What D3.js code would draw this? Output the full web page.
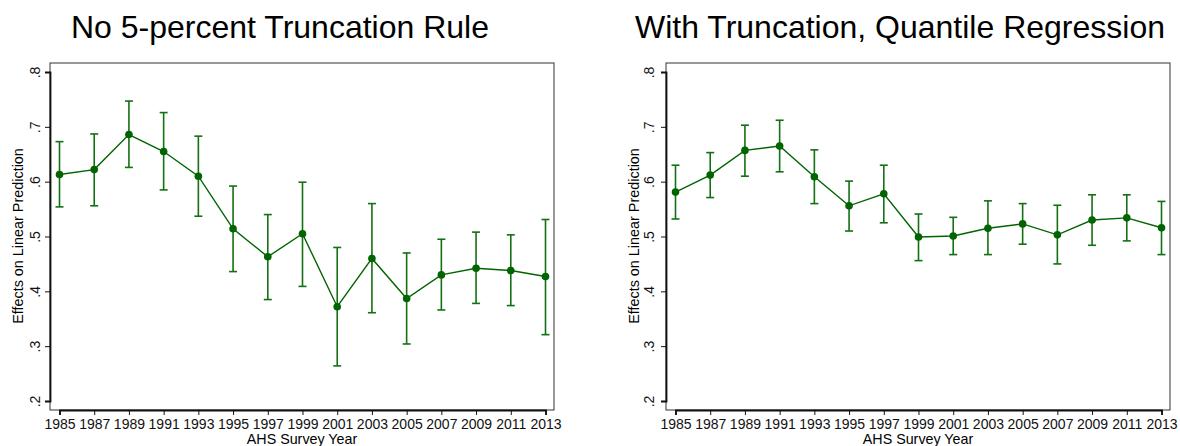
<!DOCTYPE html>
<html>
<head>
<meta charset="utf-8">
<title>AHS effects, two panels</title>
<script src="https://cdn.jsdelivr.net/npm/d3@7/dist/d3.min.js"></script>
<style>
body {
  margin: 0;
  background: #fff;
  font-family: "Liberation Sans", Arial, Helvetica, sans-serif;
}
</style>
</head>
<body>
<svg id="chart" width="1180" height="446"></svg>
<script>

// data
var years = [1985, 1987, 1989, 1991, 1993, 1995, 1997, 1999, 2001, 2003, 2005, 2007, 2009, 2011, 2013];
var yTicks = [0.2, 0.3, 0.4, 0.5, 0.6, 0.7, 0.8];

// left panel: no truncation rule
var noTruncEst = [0.613, 0.622, 0.686, 0.655, 0.610, 0.514, 0.463, 0.505, 0.372, 0.460, 0.387, 0.430, 0.442, 0.438, 0.427];
var noTruncLo  = [0.554, 0.556, 0.626, 0.585, 0.537, 0.436, 0.385, 0.409, 0.264, 0.361, 0.304, 0.366, 0.378, 0.374, 0.321];
var noTruncHi  = [0.673, 0.687, 0.747, 0.726, 0.683, 0.592, 0.540, 0.599, 0.480, 0.560, 0.470, 0.495, 0.508, 0.503, 0.531];

// right panel: truncation + quantile regression
var qregEst = [0.581, 0.612, 0.657, 0.665, 0.609, 0.556, 0.578, 0.499, 0.501, 0.515, 0.523, 0.503, 0.530, 0.534, 0.516];
var qregLo  = [0.532, 0.571, 0.610, 0.618, 0.560, 0.510, 0.525, 0.456, 0.467, 0.467, 0.486, 0.450, 0.484, 0.492, 0.467];
var qregHi  = [0.630, 0.653, 0.703, 0.712, 0.658, 0.601, 0.630, 0.541, 0.535, 0.565, 0.560, 0.557, 0.576, 0.576, 0.564];

var titles = ['No 5-percent Truncation Rule', 'With Truncation, Quantile Regression'];
var xTitle = 'AHS Survey Year';
var yTitle = 'Effects on Linear Prediction';

var green = '#006400';
var svg = d3.select('#chart');

function drawPanel(opt) {
  var est = opt.est, lo = opt.lo, hi = opt.hi;
  var x = d3.scaleLinear().domain([1985, 2013]).range([opt.x0 + 9.5, opt.x1 - 8.5]);
  var y = d3.scaleLinear().domain([0.2, 0.8]).range([401, 72]);
  var g = svg.append('g');

  // title
  g.append('text')
    .attr('x', opt.titleX).attr('y', 38)
    .attr('text-anchor', 'middle')
    .style('font-size', '32px')
    .text(opt.title);

  // plot frame
  g.append('rect')
    .attr('x', opt.x0).attr('y', 63)
    .attr('width', opt.x1 - opt.x0).attr('height', 410 - 63)
    .style('fill', 'none').style('stroke', '#333').style('stroke-width', 1);

  // y axis
  var yAxis = g.append('g')
    .attr('transform', 'translate(' + opt.x0 + ',0)')
    .call(d3.axisLeft(y).tickValues(yTicks).tickSize(5).tickPadding(6)
      .tickFormat(function(d) { return d3.format('.1f')(d).replace(/^0/, ''); }));
  yAxis.select('.domain').style('stroke', '#111').style('stroke-width', 1.8);
  yAxis.selectAll('.tick line').style('stroke', '#111');
  yAxis.selectAll('.tick text')
    .attr('x', 0).attr('dy', 0).attr('y', 0)
    .attr('text-anchor', 'middle')
    .attr('transform', 'translate(' + opt.yLabelOff + ',0) rotate(-90)')
    .style('font-size', '14px').style('fill', '#111')
    .style('font-family', '"Liberation Sans", Arial, sans-serif');

  // x axis
  var xAxis = g.append('g')
    .attr('transform', 'translate(0,410)')
    .call(d3.axisBottom(x).tickValues(years).tickSize(5).tickPadding(4)
      .tickFormat(d3.format('d')));
  xAxis.select('.domain').style('stroke', '#111').style('stroke-width', 1.8);
  xAxis.selectAll('.tick line').style('stroke', '#111');
  xAxis.selectAll('.tick text')
    .style('font-size', '14px').style('fill', '#111')
    .style('font-family', '"Liberation Sans", Arial, sans-serif');

  // axis titles
  g.append('text')
    .attr('x', (opt.x0 + opt.x1) / 2).attr('y', 444)
    .attr('text-anchor', 'middle')
    .style('font-size', '14.3px')
    .text(xTitle);
  g.append('text')
    .attr('transform', 'translate(' + (opt.x0 - 27.5) + ',236) rotate(-90)')
    .attr('text-anchor', 'middle')
    .style('font-size', '14.4px')
    .text(yTitle);

  // error bars
  var bars = g.append('g').selectAll('g').data(years).enter().append('g')
    .style('stroke', '#137013').style('stroke-width', 1.6);
  bars.append('line')
    .attr('x1', function(d) { return x(d); }).attr('x2', function(d) { return x(d); })
    .attr('y1', function(d, i) { return y(lo[i]); }).attr('y2', function(d, i) { return y(hi[i]); });
  bars.append('line')
    .attr('x1', function(d) { return x(d) - 4; }).attr('x2', function(d) { return x(d) + 4; })
    .attr('y1', function(d, i) { return y(lo[i]); }).attr('y2', function(d, i) { return y(lo[i]); });
  bars.append('line')
    .attr('x1', function(d) { return x(d) - 4; }).attr('x2', function(d) { return x(d) + 4; })
    .attr('y1', function(d, i) { return y(hi[i]); }).attr('y2', function(d, i) { return y(hi[i]); });

  // connecting line
  var line = d3.line()
    .x(function(d) { return x(d); })
    .y(function(d, i) { return y(est[i]); });
  g.append('path').datum(years)
    .attr('d', line)
    .style('fill', 'none').style('stroke', green).style('stroke-width', 1.4);

  // markers
  g.append('g').selectAll('circle').data(years).enter().append('circle')
    .attr('cx', function(d) { return x(d); })
    .attr('cy', function(d, i) { return y(est[i]); })
    .attr('r', 3.8)
    .style('fill', green);
}

drawPanel({ x0: 50, x1: 554, titleX: 280, yLabelOff: -10, title: titles[0], est: noTruncEst, lo: noTruncLo, hi: noTruncHi });
drawPanel({ x0: 666, x1: 1170, titleX: 900, yLabelOff: -12, title: titles[1], est: qregEst, lo: qregLo, hi: qregHi });

</script>
</body>
</html>
